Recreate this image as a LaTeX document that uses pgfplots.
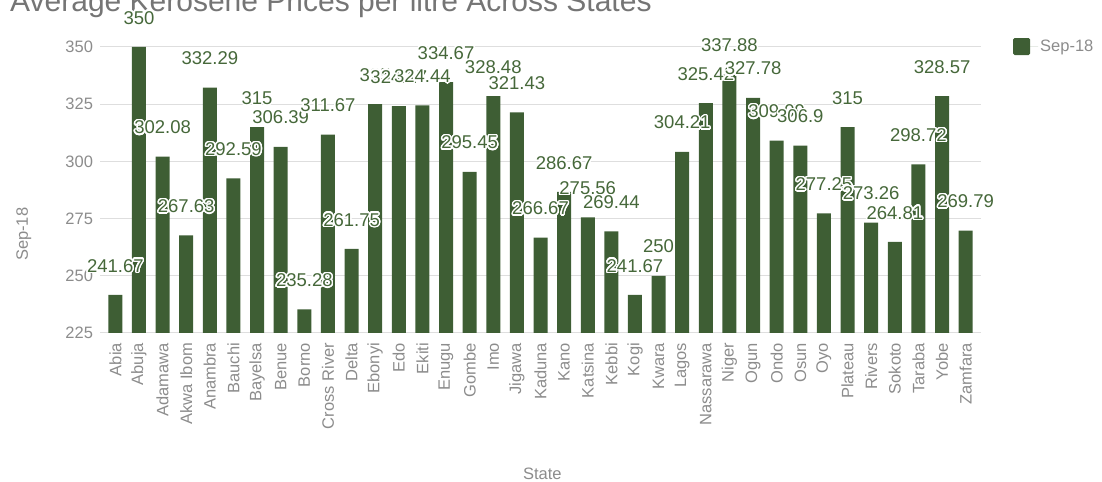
\documentclass[border=0pt]{standalone}
\usepackage{fontspec}
\setmainfont{Liberation Sans}
\usepackage{pgfplots}
\pgfplotsset{compat=1.18}
\usepackage{contour}
\contourlength{1.4bp}
\contournumber{24}

\definecolor{barc}{RGB}{62,94,52}
\definecolor{labc}{RGB}{70,104,58}
\definecolor{gridc}{RGB}{222,222,222}
\definecolor{tickc}{RGB}{140,140,140}
\definecolor{titlec}{RGB}{117,117,117}

\newcommand{\tf}{\fontsize{16.5bp}{19bp}\selectfont}

\begin{document}
\begin{tikzpicture}[x=1bp,y=1bp]
\path[use as bounding box] (0,0) rectangle (1102,482);
\node[anchor=base west, inner sep=0pt, text=titlec, font=\fontsize{30bp}{33bp}\selectfont]
  at (10,470.5) {Average Kerosene Prices per litre Across States};
\begin{axis}[
    at={(100bp,149bp)}, anchor=south west,
    scale only axis,
    width=881bp, height=286bp,
    ybar, bar width=14bp,
    xmin=-0.65, xmax=36.65,
    ymin=225, ymax=350,
    ytick={225,250,...,350},
    xtick={0,...,36},
    xticklabels={Abia, Abuja, Adamawa, Akwa Ibom, Anambra, Bauchi, Bayelsa, Benue, Borno, Cross River, Delta, Ebonyi, Edo, Ekiti, Enugu, Gombe, Imo, Jigawa, Kaduna, Kano, Katsina, Kebbi, Kogi, Kwara, Lagos, Nassarawa, Niger, Ogun, Ondo, Osun, Oyo, Plateau, Rivers, Sokoto, Taraba, Yobe, Zamfara},
    axis line style={draw=none},
    major tick length=0pt,
    ymajorgrids, grid style={gridc, line width=1bp},
    /pgf/number format/assume math mode=true,
    tick label style={font=\tf, text=tickc},
    yticklabel style={anchor=east, inner sep=0pt, outer xsep=7bp},
    xticklabel style={rotate=90, anchor=east, inner sep=0pt, outer xsep=10bp},
    ylabel={Sep-18}, xlabel={State},
    label style={font=\tf, text=tickc},
    ylabel style={at={(axis description cs:-0.0865,0.345)}, anchor=center},
    xlabel style={at={(axis description cs:0.502,-0.493)}, anchor=center},
    nodes near coords={\contour{white}{\pgfmathprintnumber{\pgfplotspointmeta}}},
    every node near coord/.style={anchor=center, yshift=28.5bp, inner sep=0pt, font=\fontsize{18.5bp}{21bp}\selectfont, text=labc},
    legend style={draw=none, fill=none, at={(axis description cs:1.0363,1.0017)}, anchor=west, inner sep=0pt, font=\tf, text=tickc},
    legend image code/.code={\fill[barc, rounded corners=1.5bp] (0bp,-8.5bp) rectangle (17bp,8.5bp); \path (0bp,0bp) -- (25bp,0bp);},
]
\addplot[fill=barc, draw=none] coordinates {
(0,241.67) (1,350) (2,302.08) (3,267.63) (4,332.29) (5,292.59) (6,315) (7,306.39)
(8,235.28) (9,311.67) (10,261.75) (11,325) (12,324.17) (13,324.44) (14,334.67)
(15,295.45) (16,328.48) (17,321.43) (18,266.67) (19,286.67) (20,275.56) (21,269.44)
(22,241.67) (23,250) (24,304.21) (25,325.42) (26,337.88) (27,327.78) (28,309.09)
(29,306.9) (30,277.25) (31,315) (32,273.26) (33,264.81) (34,298.72) (35,328.57)
(36,269.79)};
\legend{Sep-18}
\end{axis}
\end{tikzpicture}
\end{document}
